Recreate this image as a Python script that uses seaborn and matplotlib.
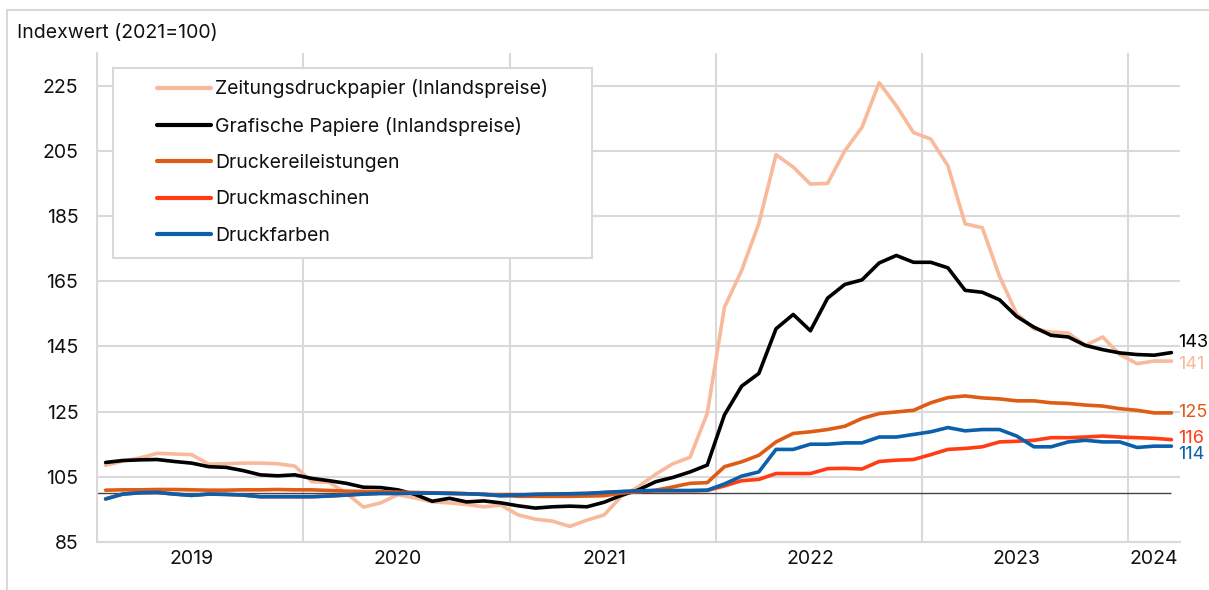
import numpy as np
import pandas as pd
import matplotlib
matplotlib.use("Agg")
import matplotlib.pyplot as plt
import seaborn as sns
from matplotlib.patches import Rectangle

# Monthly values Jan 2019 - Mar 2024, index 2021=100
months = pd.date_range("2019-01-01", "2024-03-01", freq="MS")

zeitung = [108.5, 109.8, 110.8, 112.2, 112.0, 111.8, 108.9, 109.0, 109.2, 109.2, 109.0, 108.3,
           103.5, 103.3, 100.0, 95.7, 97.0, 99.5, 98.5, 97.3, 97.0, 96.5, 95.8, 96.3,
           93.3, 92.0, 91.4, 89.8, 91.7, 93.3, 99.0, 102.0, 105.8, 109.0, 111.0, 124.5,
           157.0, 168.3, 182.7, 203.8, 200.0, 194.8, 195.0, 205.0, 212.2, 225.9, 218.8, 210.6,
           208.6, 200.4, 182.6, 181.4, 166.5, 155.0, 150.4, 149.4, 149.1, 145.3, 147.9, 142.5,
           139.7, 140.5, 140.5]

grafisch = [109.4, 110.0, 110.2, 110.3, 109.7, 109.2, 108.1, 107.9, 106.9, 105.6, 105.3, 105.6,
            104.5, 103.8, 103.0, 101.8, 101.7, 101.0, 99.6, 97.5, 98.4, 97.3, 97.6, 97.0,
            96.1, 95.4, 95.8, 96.0, 95.8, 97.2, 99.3, 101.0, 103.5, 104.8, 106.5, 108.6,
            124.0, 132.8, 136.7, 150.4, 154.8, 149.8, 159.8, 164.0, 165.4, 170.6, 172.9, 170.8,
            170.8, 169.1, 162.2, 161.6, 159.3, 154.2, 150.9, 148.4, 147.9, 145.3, 144.0, 143.0,
            142.5, 142.3, 143.1]

druckerei = [100.9, 101.0, 101.0, 101.1, 101.1, 101.0, 100.9, 100.9, 101.0, 101.0, 101.1, 101.0,
             101.0, 100.8, 100.6, 100.5, 100.4, 100.3, 100.2, 100.1, 100.0, 99.8, 99.6, 99.4,
             99.0, 99.0, 99.0, 99.0, 99.1, 99.2, 100.0, 100.4, 100.9, 101.9, 103.0, 103.2,
             108.1, 109.6, 111.6, 115.7, 118.3, 118.8, 119.5, 120.5, 122.9, 124.4, 124.9, 125.4,
             127.7, 129.3, 129.8, 129.2, 128.9, 128.3, 128.3, 127.7, 127.5, 127.0, 126.7, 125.9,
             125.4, 124.6, 124.6]

maschinen = [98.2, 99.7, 100.1, 100.2, 99.7, 99.3, 99.7, 99.6, 99.4, 98.9, 98.9, 98.9,
             98.9, 99.1, 99.4, 99.7, 99.9, 99.9, 100.0, 100.0, 99.9, 99.8, 99.6, 99.2,
             99.4, 99.6, 99.7, 99.8, 99.9, 100.2, 100.4, 100.6, 100.7, 100.7, 100.7, 100.8,
             102.2, 103.8, 104.2, 106.0, 106.0, 106.0, 107.5, 107.6, 107.4, 109.7, 110.1, 110.3,
             111.8, 113.4, 113.7, 114.2, 115.7, 115.9, 116.2, 117.0, 117.0, 117.2, 117.5, 117.2,
             117.0, 116.8, 116.4]

farben = [98.2, 99.7, 100.1, 100.2, 99.7, 99.3, 99.7, 99.6, 99.4, 98.9, 98.9, 98.9,
          98.9, 99.1, 99.4, 99.7, 99.9, 99.9, 100.0, 100.0, 99.9, 99.8, 99.6, 99.2,
          99.4, 99.6, 99.7, 99.8, 99.9, 100.2, 100.5, 100.7, 100.8, 100.8, 100.8, 100.9,
          102.8, 105.2, 106.5, 113.4, 113.4, 115.0, 115.0, 115.4, 115.4, 117.2, 117.2, 118.0,
          118.8, 120.1, 119.1, 119.5, 119.5, 117.5, 114.2, 114.2, 115.7, 116.2, 115.7, 115.7,
          114.0, 114.4, 114.4]

series_names = ["Zeitungsdruckpapier (Inlandspreise)", "Grafische Papiere (Inlandspreise)",
                "Druckereileistungen", "Druckmaschinen", "Druckfarben"]
end_labels = ["141", "143", "125", "116", "114"]
colors = ["#F9B99B", "#000000", "#DF5C16", "#FF3C12", "#0A60AA"]

# long table for seaborn
pos = np.arange(len(months))
frames = []
for name, vals in zip(series_names, [zeitung, grafisch, druckerei, maschinen, farben]):
    frames.append(pd.DataFrame({"pos": pos, "wert": vals, "reihe": name}))
df = pd.concat(frames, ignore_index=True)

sns.set_theme(style="white")
plt.rcParams["font.family"] = ["Inter", "DejaVu Sans"]
plt.rcParams["text.color"] = "#111111"
fs = 14

W, H = 1209, 590
fig = plt.figure(figsize=(W / 100, H / 100), dpi=100)
ax = fig.add_axes([97 / W, 48 / H, (1180 - 97) / W, (542 - 53) / H])

sns.lineplot(data=df, x="pos", y="wert", hue="reihe", hue_order=series_names,
             palette=colors, linewidth=2.6, errorbar=None, ax=ax)

grid_c = "#D9D9D9"
ax.set_xlim(-0.5, len(months) - 0.5)
ax.set_ylim(85, 235)
ax.set_yticks(range(85, 226, 20))
ax.set_axisbelow(True)
ax.grid(axis="y", color=grid_c, lw=1.5)

# year labels and year separators
years = months.year
year_list = sorted(set(years))
label_pos = [int(np.floor(pos[years == y].mean())) for y in year_list]
sep_pos = [pos[years == y][0] - 0.5 for y in year_list]
ax.set_xticks(label_pos)
ax.set_xticklabels([str(y) for y in year_list])
ax.set_xticks(sep_pos, minor=True)
ax.grid(axis="x", which="minor", color=grid_c, lw=1.5)
ax.grid(axis="x", which="major", visible=False)
ax.tick_params(axis="x", which="major", length=0, pad=6, labelsize=fs, colors="#111111")
ax.tick_params(axis="x", which="minor", length=5, width=1.5, color=grid_c, direction="out")
ax.tick_params(axis="y", length=0, pad=13.5, labelsize=fs, colors="#111111")
ax.set_xlabel("")
ax.set_ylabel("")

for side in ["top", "right"]:
    ax.spines[side].set_visible(False)
for side in ["left", "bottom"]:
    ax.spines[side].set_color(grid_c)
    ax.spines[side].set_linewidth(1.5)

ax.hlines(100, -0.5, len(months) - 1, color="#444444", lw=1, zorder=1.5)

# end labels
offsets = [(7, -3), (7, 10), (7, 0), (7, 1.5), (7, -8.5)]
for vals, lab, col, off in zip([zeitung, grafisch, druckerei, maschinen, farben], end_labels, colors, offsets):
    ax.annotate(lab, (pos[-1], vals[-1]), xytext=off, textcoords="offset pixels",
                ha="left", va="center", fontsize=13, color=col, annotation_clip=False)

# legend box
ax.add_patch(Rectangle(((113 - 97) / 1083, (542 - 258) / 489), (592 - 113) / 1083, (258 - 68) / 489,
                       transform=ax.transAxes, facecolor="white", edgecolor=grid_c, lw=1.5, zorder=3))
handles, labels = ax.get_legend_handles_labels()
leg = ax.legend(handles, labels, loc="upper left", bbox_to_anchor=((157 - 97) / 1083, (542 - 79.5) / 489),
                frameon=False, handlelength=2.8, handletextpad=0.2, labelspacing=0.94,
                borderaxespad=0, borderpad=0, fontsize=fs)
for h in leg.get_lines():
    h.set_linewidth(3)

fig.text(17 / W, 1 - 33 / H, "Indexwert (2021=100)", fontsize=fs, ha="left", va="center")

fig.add_artist(Rectangle((7 / W, -0.05), 1.1, (H - 10) / H + 0.05, transform=fig.transFigure,
                         fill=False, edgecolor=grid_c, lw=1.5))

fig.savefig("out.png", dpi=100)
